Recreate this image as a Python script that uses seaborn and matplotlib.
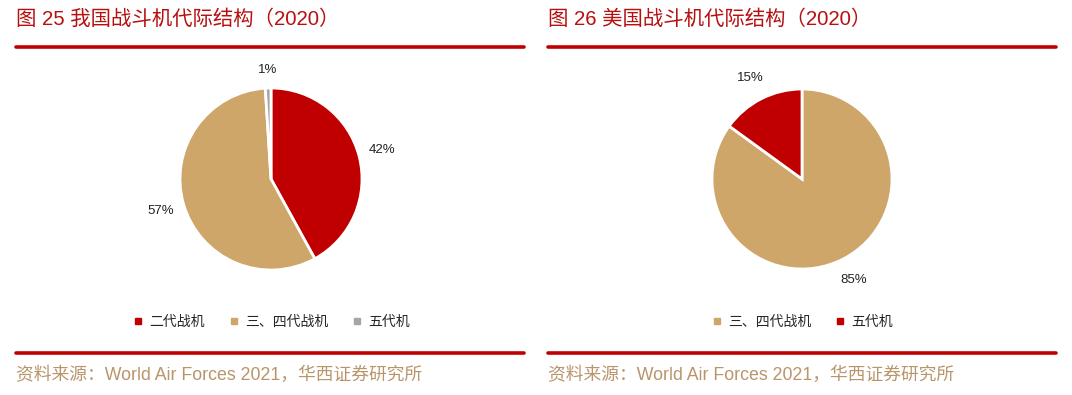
import matplotlib
matplotlib.use("Agg")
import matplotlib.pyplot as plt
import seaborn as sns

sns.set_theme(style="white")
plt.rcParams['font.family'] = ['Liberation Sans', 'Noto Sans CJK SC']

# data
cn_labels = ["二代战机", "三、四代战机", "五代机"]
cn_values = [42, 57, 1]
us_labels = ["三、四代战机", "五代机"]
us_values = [85, 15]
titles = ["图 25 我国战斗机代际结构（2020）", "图 26 美国战斗机代际结构（2020）"]
source = "资料来源：World Air Forces 2021，华西证券研究所"

RED = "#C00000"
TAN = "#CFA66A"
GREY = "#A6A6A6"
cn_colors = sns.color_palette([RED, TAN, GREY])
us_colors = sns.color_palette([TAN, RED])

W, H = 1072, 395
fig = plt.figure(figsize=(W / 100, H / 100), dpi=100)


def px_axes(cx, cy, r):
    s = 2.5 * r
    return fig.add_axes([(cx - s / 2) / W, 1 - (cy + s / 2) / H, s / W, s / H])


def panel(x0, x1, title):
    fig.text(x0 / W, 1 - 19 / H, title, color="#B80F0F", fontsize=14.7,
             va="center", ha="left")
    for y in (47, 353):
        fig.add_artist(plt.Line2D([x0 / W, x1 / W], [1 - y / H, 1 - y / H],
                                  color="#C00000", lw=2.6))
    fig.text(x0 / W, 1 - 375 / H, source, color="#B8956A", fontsize=12.8,
             va="center", ha="left")


def draw_pie(cx, cy, r, values, labels, colors, legend_y):
    ax = px_axes(cx, cy, r)
    wedges, _, autotexts = ax.pie(values, colors=colors, startangle=90,
                                  counterclock=False, autopct='%.0f%%',
                                  pctdistance=1.26,
                                  wedgeprops=dict(edgecolor="white", linewidth=2))
    for v, t in zip(values, autotexts):
        t.set_fontsize(9.5)
        t.set_color("#222222")
        if v < 5:
            x, y = t.get_position()
            t.set_position((x * 0.95, y * 0.95))
    ax.set_xlim(-1.25, 1.25)
    ax.set_ylim(-1.25, 1.25)
    ax.set_aspect("equal")
    handles = [plt.Line2D([], [], marker="s", ls="", color=c, markersize=4)
               for c in colors]
    fig.legend(handles, labels, loc="center", bbox_to_anchor=(cx / W, 1 - legend_y / H),
               ncol=len(labels), frameon=False, fontsize=10, handlelength=0.8,
               handletextpad=0.4, columnspacing=1.7)


panel(16, 524, titles[0])
panel(548, 1056, titles[1])
draw_pie(271, 179, 91, cn_values, cn_labels, cn_colors, 322)
draw_pie(802, 179, 90, us_values, us_labels, us_colors, 322)

fig.savefig("out.png", dpi=100)
